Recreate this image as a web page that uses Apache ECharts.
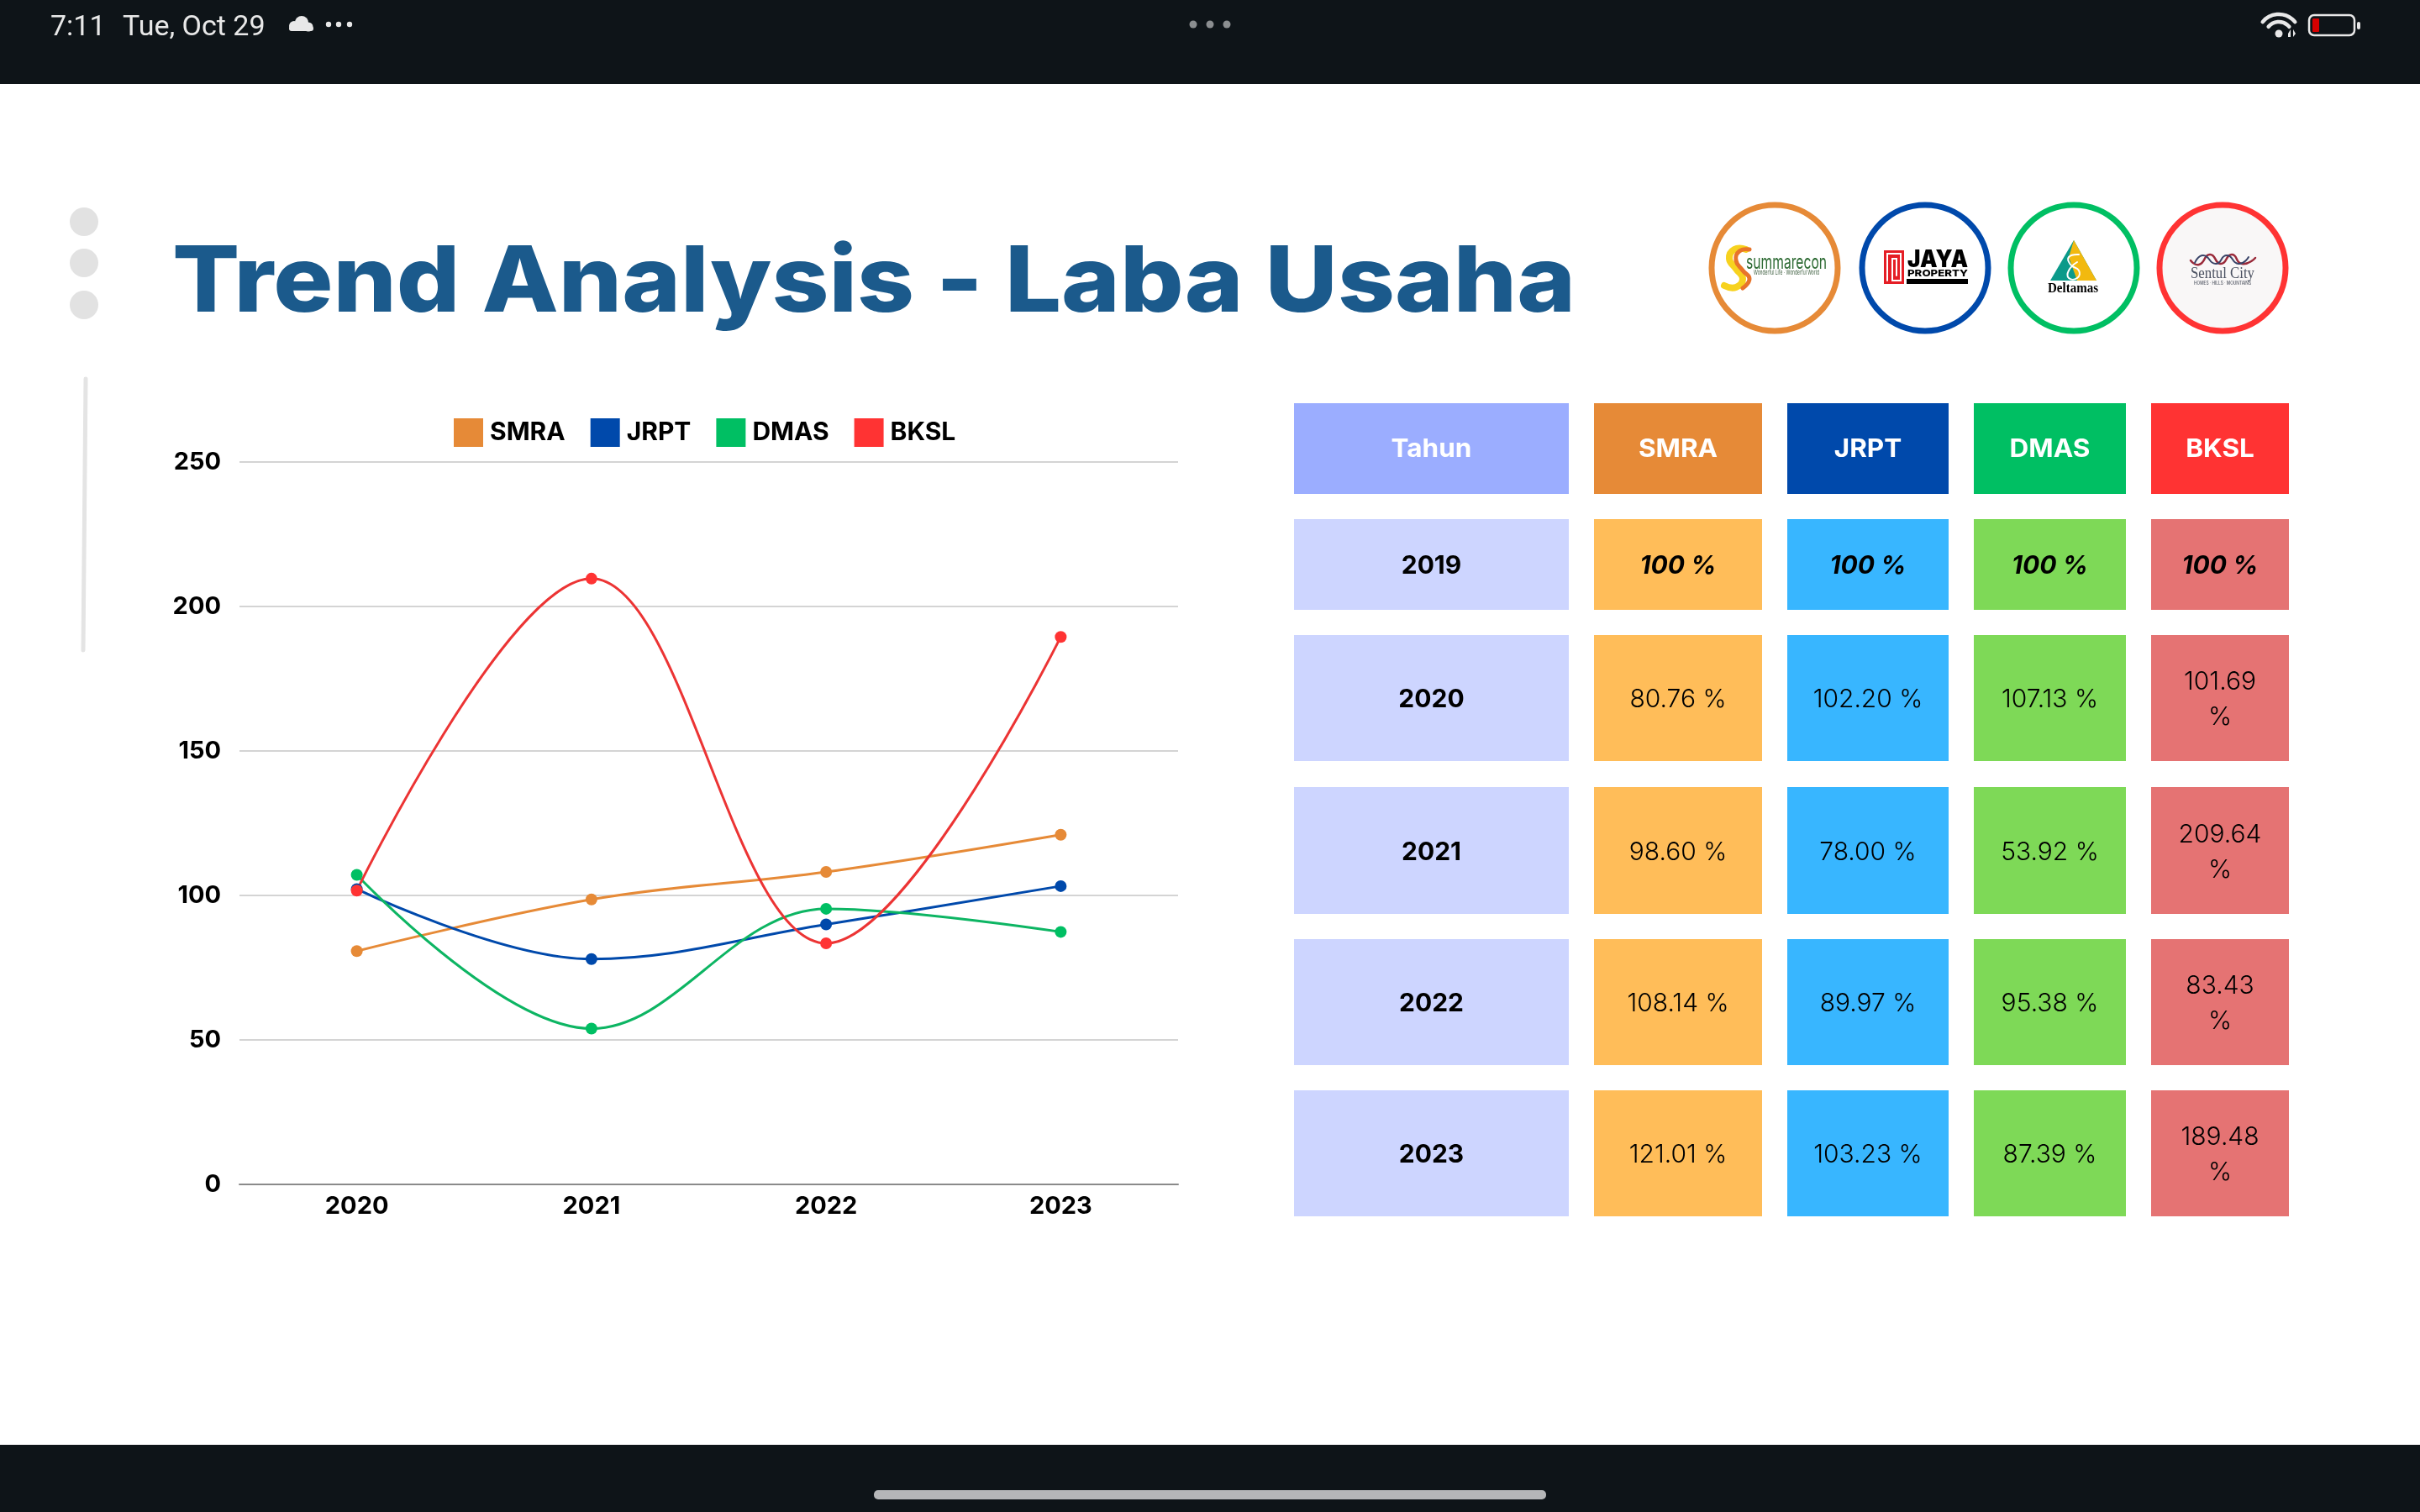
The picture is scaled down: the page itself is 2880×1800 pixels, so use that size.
<!DOCTYPE html>
<html>
<head>
<meta charset="utf-8">
<style>html,body{margin:0;padding:0;background:#fff}#c{width:2880px;height:1800px}</style>
<script src="https://cdn.jsdelivr.net/npm/echarts@6/dist/echarts.min.js"></script>
</head>
<body>
<div id="c"></div>
<script>
const categories = ['2020','2021','2022','2023'];
const seriesNames = ['SMRA','JRPT','DMAS','BKSL'];
const smra = [80.76,98.60,108.14,121.01];
const jrpt = [102.20,78.00,89.97,103.23];
const dmas = [107.13,53.92,95.38,87.39];
const bksl = [101.69,209.64,83.43,189.48];
const yTicks = [0,50,100,150,200,250];
const baseYear = '2019';
const baseValue = 100;
const seriesColors = ['#E68A37','#0049AB','#00BF63','#FF3333'];
const lineColors = ['#E68A37','#0049AB','#0DB563','#EC3434'];
const cellColors = ['#FFBD59','#38B6FF','#7ED957','#E57373'];
const titleText = 'Trend Analysis - Laba Usaha';
const tableHead = 'Tahun';

const FONT = 'Inter';
const columnsX = [[1540,1867],[1897,2097],[2127,2319],[2349,2530],[2560,2724]];
const rowsY = [[480,588],[618,726],[756,906],[937,1088],[1118,1268],[1298,1448]];
const allSeries = [smra,jrpt,dmas,bksl];

const ctx = document.createElement('canvas').getContext('2d');
function T(x,y,text,size,weight,color,o){
  o=o||{};
  const st = {text:text,fontFamily:o.family||FONT,fontSize:size,fontWeight:weight,fontStyle:o.style||'normal',
    fill:color,textAlign:o.align||'center',textVerticalAlign:'middle',lineHeight:o.lh};
  let sx=o.sx||1;
  if(o.w){
    ctx.font=(o.style||'normal')+' '+weight+' '+size+'px "'+(o.family||FONT)+'"';
    sx=o.w/ctx.measureText(text).width;
  }
  return {type:'text',x:x,y:y,scaleX:sx,style:st,z:5,silent:true};
}
function R(x0,y0,x1,y1,fill,r){return {type:'rect',shape:{x:x0,y:y0,width:x1-x0,height:y1-y0,r:r||0},style:{fill:fill},z:3,silent:true};}
function C(cx,cy,r,fill,stroke,lw){return {type:'circle',shape:{cx:cx,cy:cy,r:r},style:{fill:fill,stroke:stroke,lineWidth:lw||0},z:3,silent:true};}
function P(points,fill){return {type:'polygon',shape:{points:points},style:{fill:fill},z:4,silent:true};}
function L(points,stroke,lw,smooth){return {type:'polyline',shape:{points:points,smooth:smooth||0},style:{stroke:stroke,lineWidth:lw,fill:null,lineCap:'round'},z:4,silent:true};}
function A(cx,cy,r,a0,a1,stroke,lw){return {type:'arc',shape:{cx:cx,cy:cy,r:r,startAngle:a0,endAngle:a1},style:{stroke:stroke,lineWidth:lw,fill:null,lineCap:'round'},z:4,silent:true};}

const g = [];
// device frame
g.push(R(0,0,2880,100,'#0E1418'), R(0,1720,2880,1800,'#0E1418'), R(1040,1774,1840,1785,'#B5B6B8',5));
g.push(T(60,33,'7:11',34,400,'#E8E8E8',{family:'Roboto',align:'left'}));
g.push(T(146,33,'Tue, Oct 29',34,400,'#E8E8E8',{family:'Roboto',align:'left'}));
// cloud
g.push(C(350,31,6,'#E8E8E8'),C(359,27,8,'#E8E8E8'),C(367,32,5.5,'#E8E8E8'),R(344,31,373,37,'#E8E8E8',3));
[391,403,416].forEach(x=>g.push(C(x,29,3.2,'#E8E8E8')));
[1420,1440,1460].forEach(x=>g.push(C(x,29,4.5,'#8B8E90')));
// wifi
const wa0=-Math.PI*0.78,wa1=-Math.PI*0.22;
g.push(A(2712,42,25,wa0,wa1,'#E8E8E8',4.5),A(2712,42,16,wa0,wa1,'#E8E8E8',4.5),C(2712,40,4.5,'#E8E8E8'));
g.push(P([[2726,35],[2726,44],[2723,44],[2723,40]],'#E8E8E8'),P([[2729,35],[2729,44],[2732,40]],'#E8E8E8'));
// battery
g.push({type:'rect',shape:{x:2748,y:18,width:54,height:24,r:6},style:{fill:null,stroke:'#E8E8E8',lineWidth:2.5},z:4,silent:true});
g.push(R(2752,22,2760,38,'#D50000',1),R(2805,26,2809,35,'#E8E8E8',2));
// side decoration
[264,313,363].forEach(y=>g.push(C(100,y,17,'#E2E2E2')));
g.push(L([[102,451],[99,774]],'#E4E4E4',5));
// title
g.push(T(205,338,titleText,109,800,'#1B5A8C',{align:'left',w:1670}));

// logos
[[2112,'#E68A37'],[2291,'#0049AB'],[2468,'#00BF63'],[2645,'#FF3333']].forEach((d,i)=>{
  g.push(C(d[0],319,75,i===3?'#F9F7F7':'#FFFFFF',d[1],7));
});
// Summarecon
g.push(L([[2078,297],[2064,297],[2058,308],[2066,320],[2074,332],[2066,342],[2052,340]],'#F7D21E',8,0.5));
g.push(L([[2082,297],[2070,299],[2066,310],[2074,322],[2082,332],[2074,343]],'#E8742A',5,0.5));
g.push(T(2126,313,'summarecon',24,400,'#2E6B34',{w:96}));
g.push(T(2126,325,'Wonderful Life · Wonderful World',8,400,'#3F5F40',{w:78}));
// Jaya property
g.push(R(2242,298,2266,338,'#E51E25'));
g.push(L([[2246,334],[2246,302],[2262,302],[2262,334],[2252,334],[2252,308],[2257,308],[2257,328]],'#FFFFFF',2));
g.push(T(2306,310,'JAYA',28,900,'#000000',{w:72}));
g.push(T(2306,326,'PROPERTY',11,800,'#000000',{w:72}));
g.push(R(2269,332,2342,338,'#000000'));
// Deltamas
g.push(P([[2468,286],[2495,334],[2440,334]],'#0A9A8A'));
g.push(P([[2468,286],[2495,334],[2472,334],[2462,306]],'#F2B90F'));
g.push(L([[2474,303],[2462,306],[2464,315],[2474,322],[2472,331],[2462,331],[2462,322],[2472,312]],'#FFFFFF',2,0.5));
g.push(T(2467,344,'Deltamas',17,700,'#000000',{family:'Liberation Serif',w:60}));
// Sentul City
g.push(L([[2607,310],[2617,315],[2630,303],[2643,314],[2656,303],[2668,314],[2684,307]],'#9A2A3A',2.5,0.6));
g.push(L([[2612,313],[2622,304],[2637,314],[2650,304],[2664,314],[2676,306]],'#3A4468',2,0.6));
g.push(T(2645,326,'Sentul City',19,400,'#4A5060',{family:'Liberation Serif',w:76}));
g.push(T(2645,337,'HOMES · HILLS · MOUNTAINS',6,500,'#555A66',{w:68}));

// table
g.push(R(columnsX[0][0],rowsY[0][0],columnsX[0][1],rowsY[0][1],'#9BADFF'));
g.push(T((columnsX[0][0]+columnsX[0][1])/2,rowsY[0][0]+55,tableHead,30,700,'#FFFFFF',{sx:1.05}));
seriesNames.forEach((n,i)=>{
  const c=columnsX[i+1];
  g.push(R(c[0],rowsY[0][0],c[1],rowsY[0][1],seriesColors[i]));
  g.push(T((c[0]+c[1])/2,rowsY[0][0]+55,n,30,700,'#FFFFFF',{sx:1.05}));
});
const rows=[baseYear].concat(categories);
rows.forEach((yr,ri)=>{
  const r=rowsY[ri+1], cy=(r[0]+r[1])/2+2;
  const c0=columnsX[0];
  g.push(R(c0[0],r[0],c0[1],r[1],'#CDD5FF'));
  g.push(T((c0[0]+c0[1])/2,cy,yr,30,700,'#000000'));
  allSeries.forEach((s,si)=>{
    const c=columnsX[si+1], cx=(c[0]+c[1])/2;
    g.push(R(c[0],r[0],c[1],r[1],cellColors[si]));
    if(ri===0){
      g.push(T(cx,cy,baseValue+' %',30,700,'#000000',{style:'italic'}));
    }else{
      const txt=s[ri-1].toFixed(2);
      g.push(si===3 ? T(cx,cy,txt+'\n%',30,300,'#000000',{lh:42}) : T(cx,cy,txt+' %',30,300,'#000000'));
    }
  });
});

const chart = echarts.init(document.getElementById('c'),null,{renderer:'canvas',width:2880,height:1800});
chart.setOption({
  animation:false,
  backgroundColor:'#FFFFFF',
  color:seriesColors,
  grid:{left:285,top:550,width:1117,height:860,containLabel:false},
  legend:{left:535,top:493,itemWidth:35,itemHeight:34,itemGap:30,icon:'rect',
    lineStyle:{width:0},
    data:seriesNames,
    textStyle:{fontFamily:FONT,fontSize:30,fontWeight:700,color:'#000',padding:[4,0,0,3]}},
  xAxis:{type:'category',data:categories,boundaryGap:true,
    axisLine:{lineStyle:{color:'#8A8A8A',width:2}},axisTick:{show:false},
    axisLabel:{fontFamily:FONT,fontSize:29,fontWeight:700,color:'#000',margin:12}},
  yAxis:{type:'value',min:yTicks[0],max:yTicks[yTicks.length-1],interval:yTicks[1]-yTicks[0],
    axisLine:{show:false},axisTick:{show:false},
    splitLine:{lineStyle:{color:'#D4D4D4',width:2}},
    axisLabel:{fontFamily:FONT,fontSize:29,fontWeight:700,color:'#000',margin:22,lineHeight:34,padding:[4,0,0,0]}},
  series:seriesNames.map((n,i)=>({name:n,type:'line',data:allSeries[i],smooth:0.37,smoothConstraint:false,
    symbol:'circle',symbolSize:14,showSymbol:true,
    lineStyle:{width:3,color:lineColors[i]},itemStyle:{color:seriesColors[i]}})),
  graphic:{elements:g}
});
</script>
</body>
</html>
